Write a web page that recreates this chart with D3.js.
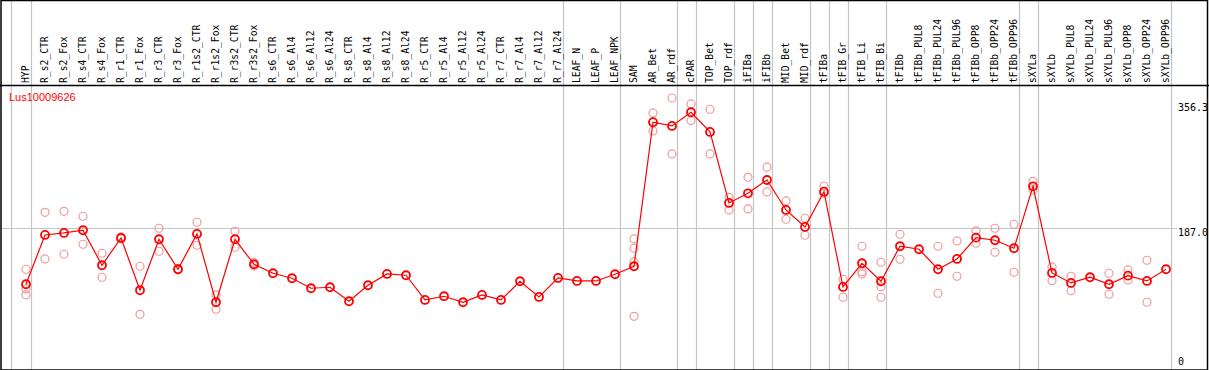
<!DOCTYPE html>
<html>
<head>
<meta charset="utf-8">
<script src="https://cdn.jsdelivr.net/npm/d3@7"></script>
<style>
  html, body { margin: 0; padding: 0; background: #fff; }
  svg { display: block; }
</style>
</head>
<body>
<svg id="chart"></svg>
<script>
const WIDTH = 1209
const HEIGHT = 370

const geneName = 'Lus10009626'

const categories = [
  'HYP', 'R_s2_CTR', 'R_s2_Fox', 'R_s4_CTR', 'R_s4_Fox', 'R_r1_CTR', 'R_r1_Fox',
  'R_r3_CTR', 'R_r3_Fox', 'R_r1s2_CTR', 'R_r1s2_Fox', 'R_r3s2_CTR', 'R_r3s2_Fox',
  'R_s6_CTR', 'R_s6_Al4', 'R_s6_Al12', 'R_s6_Al24', 'R_s8_CTR', 'R_s8_Al4',
  'R_s8_Al12', 'R_s8_Al24', 'R_r5_CTR', 'R_r5_Al4', 'R_r5_Al12', 'R_r5_Al24',
  'R_r7_CTR', 'R_r7_Al4', 'R_r7_Al12', 'R_r7_Al24', 'LEAF_N', 'LEAF_P', 'LEAF_NPK',
  'SAM', 'AR_Bet', 'AR_rdf', 'cPAR', 'TOP_Bet', 'TOP_rdf', 'iFIBa', 'iFIBb',
  'MID_Bet', 'MID_rdf', 'tFIBa', 'tFIB_Gr', 'tFIB_Li', 'tFIB_Bi', 'tFIBb',
  'tFIBb_PUL8', 'tFIBb_PUL24', 'tFIBb_PUL96', 'tFIBb_OPP8', 'tFIBb_OPP24', 'tFIBb_OPP96',
  'sXYLa', 'sXYLb', 'sXYLb_PUL8', 'sXYLb_PUL24', 'sXYLb_PUL96', 'sXYLb_OPP8',
  'sXYLb_OPP24', 'sXYLb_OPP96'
]

// mean expression per sample (the red line)
const meanValues = [
  114.1, 178.2, 180.8, 184.3, 138.8, 174.3, 106.3,
  172.6, 133.6, 179.5, 90.7, 172.6, 140.1,
  128.4, 121.9, 108.9, 110.2, 92.0, 112.8,
  127.5, 125.8, 93.7, 98.5, 90.7, 100.2,
  93.7, 118.0, 97.6, 122.3, 118.4, 118.4, 127.1,
  137.5, 324.8, 320.0, 337.8, 312.2, 219.8, 232.4, 249.7,
  210.7, 188.6, 234.5, 110.6, 141.4, 118.0, 163.5,
  159.6, 133.6, 147.0, 174.7, 171.3, 160.9,
  241.5, 128.8, 115.8, 123.2, 114.1, 125.3,
  118.4, 133.6
]

// individual replicates (pale circles)
const replicateValues = [
  [133.6, 108.0, 100.2], [207.7, 147.0], [209.0, 153.1], [202.5, 166.1], [154.4, 123.2],
  [175.6, 173.0], [137.5, 75.0], [186.9, 157.0], [132.7, 134.4], [194.7, 164.8],
  [100.2, 81.6], [183.0, 162.2], [142.7, 137.9],
  [], [], [], [], [], [], [], [], [], [], [], [], [], [], [], [], [], [], [],
  [173.0, 160.9, 143.5, 72.4], [336.9, 313.5], [356.3, 283.6], [348.6, 326.9],
  [341.7, 283.6], [227.2, 210.7], [253.2, 212.0], [266.3, 234.1],
  [222.4, 198.6], [199.9, 177.8], [241.9, 232.4], [120.6, 97.2],
  [163.5, 130.5, 127.5], [142.7, 111.0, 97.2], [179.1, 146.6],
  [], [163.5, 102.4], [170.4, 124.5], [183.4, 167.4], [186.9, 155.7], [192.1, 129.7],
  [248.0, 236.7], [136.6, 118.8], [124.5, 105.7], [], [128.4, 101.1],
  [132.7, 119.7], [145.3, 90.7], []
]

// a grey divider is drawn right after each of these samples
const dividerAfter = [
  'HYP', 'R_r7_Al24', 'LEAF_NPK', 'AR_rdf', 'cPAR', 'TOP_rdf', 'iFIBa', 'iFIBb',
  'MID_rdf', 'tFIBa', 'tFIB_Gr', 'tFIB_Bi', 'tFIBb_OPP96', 'sXYLa', 'sXYLb_OPP96'
]

const yTicks = [0, 187.0, 356.3]
const yMax = 356.3

const HEADER_BOTTOM = 85
const LABEL_X = 1178

const svg = d3.select('#chart').attr('width', WIDTH).attr('height', HEIGHT)

const xScale = d3.scalePoint().domain(categories).range([26, 1166]).padding(0)
const step = xScale.step()

const yScale = d3.scaleLinear().domain([0, yMax]).range([372, 98])

// vertical group dividers (full height)
const divXs = [xScale(categories[0]) - step + 3.5].concat(dividerAfter.map(c => xScale(c) + 4.5))
svg.append('g').attr('class', 'dividers')
  .selectAll('line').data(divXs).enter()
  .append('line')
  .attr('x1', d => Math.round(d) + 0.5).attr('x2', d => Math.round(d) + 0.5)
  .attr('y1', 0).attr('y2', HEIGHT)
  .attr('stroke', '#c4c4c4').attr('stroke-width', 1.2)

// horizontal grid at the middle tick
svg.append('line')
  .attr('x1', 1).attr('x2', 1177)
  .attr('y1', Math.round(yScale(187.0)) + 0.5).attr('y2', Math.round(yScale(187.0)) + 0.5)
  .attr('stroke', '#c4c4c4').attr('stroke-width', 1.2)

// frame + header separator
svg.append('rect')
  .attr('x', 1).attr('y', 0.5).attr('width', WIDTH - 2.5).attr('height', HEIGHT - 0.5)
  .attr('fill', 'none').attr('stroke', '#000').attr('stroke-width', 1.5)
svg.append('line')
  .attr('x1', 0).attr('x2', WIDTH)
  .attr('y1', HEADER_BOTTOM + 0.5).attr('y2', HEADER_BOTTOM + 0.5)
  .attr('stroke', '#000').attr('stroke-width', 1.5)

// column labels, rotated
svg.append('g').attr('class', 'col-labels')
  .selectAll('text').data(categories).enter()
  .append('text')
  .attr('transform', d => `translate(${xScale(d) + 2.5},${HEADER_BOTTOM - 2}) rotate(-90)`)
  .attr('text-anchor', 'start')
  .style('font-family', '"DejaVu Sans Mono", "Liberation Mono", monospace')
  .style('font-size', '9.7px')
  .attr('fill', '#000')
  .text(d => d)

// right-hand value labels
svg.append('g').attr('class', 'y-labels')
  .selectAll('text').data(yTicks).enter()
  .append('text')
  .attr('x', LABEL_X)
  .attr('y', d => Math.max(111, Math.min(yScale(d) + 8, 365)))
  .style('font-family', '"DejaVu Sans Mono", "Liberation Mono", monospace')
  .style('font-size', '10px')
  .attr('fill', '#000')
  .text(d => d === 0 ? '0' : d.toFixed(1))

// gene name
svg.append('text')
  .attr('x', 9).attr('y', 101)
  .style('font-family', '"Liberation Sans", Arial, sans-serif')
  .style('font-size', '11px')
  .attr('fill', '#ff0000')
  .text(geneName)

// replicates
const repPoints = []
replicateValues.forEach((reps, i) => reps.forEach(v => repPoints.push({ label: categories[i], value: v })))

svg.append('g').attr('class', 'reps')
  .selectAll('circle').data(repPoints).enter()
  .append('circle')
  .attr('cx', d => xScale(d.label))
  .attr('cy', d => yScale(d.value))
  .attr('r', 4)
  .attr('fill', 'none')
  .attr('stroke', '#f09a9a')
  .attr('stroke-width', 1.2)

// mean line
const meanData = categories.map((label, i) => ({ label, value: meanValues[i] }))
const lineGen = d3.line()
  .x(d => xScale(d.label))
  .y(d => yScale(d.value))

svg.append('path').datum(meanData)
  .attr('fill', 'none')
  .attr('stroke', '#ff0000')
  .attr('stroke-width', 1.2)
  .attr('d', lineGen)

svg.append('g').attr('class', 'means')
  .selectAll('circle').data(meanData).enter()
  .append('circle')
  .attr('cx', d => xScale(d.label))
  .attr('cy', d => yScale(d.value))
  .attr('r', 4)
  .attr('fill', 'none')
  .attr('stroke', '#ff0000')
  .attr('stroke-width', 1.8)
</script>
</body>
</html>
